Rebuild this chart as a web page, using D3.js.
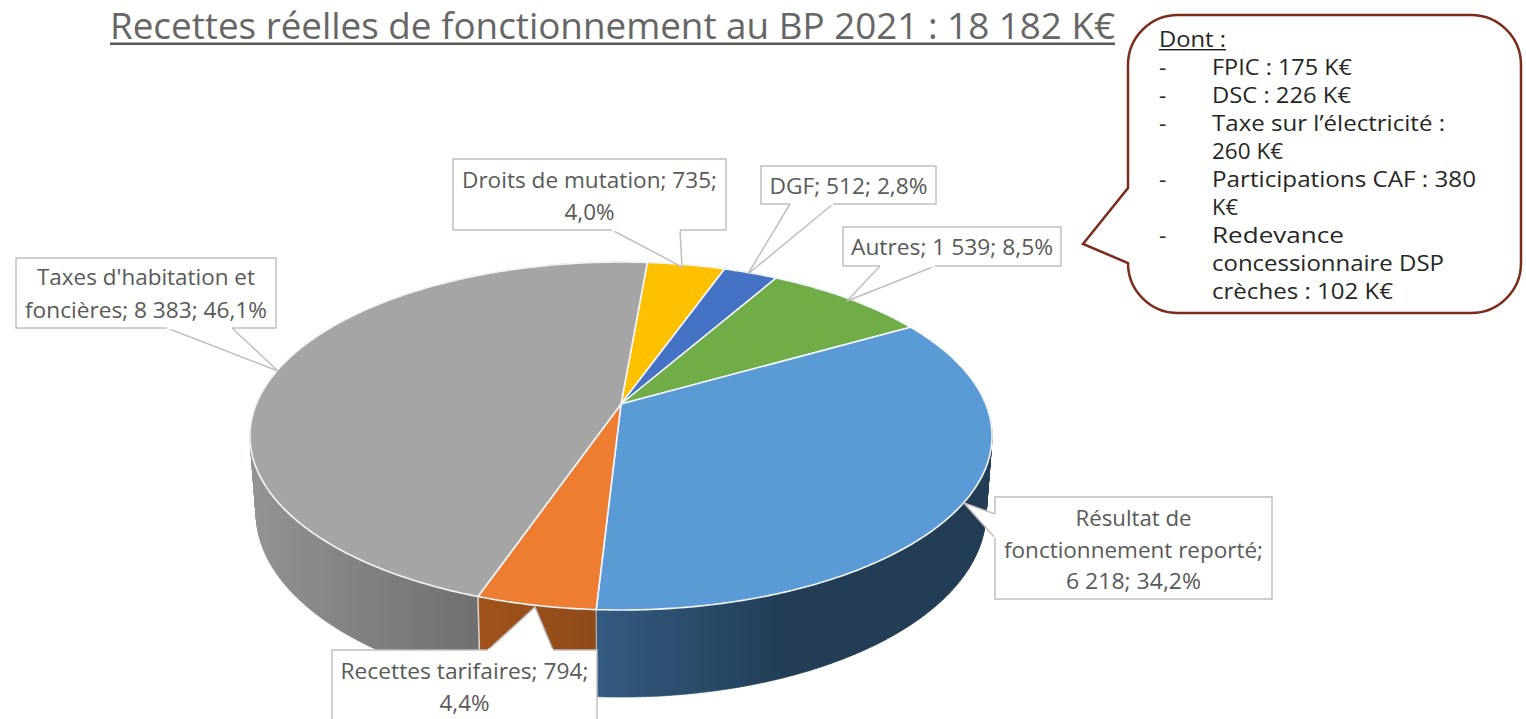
<!DOCTYPE html>
<html lang="fr">
<head>
<meta charset="utf-8">
<script src="https://cdn.jsdelivr.net/npm/d3@7"></script>
<style>
html,body{margin:0;padding:0;background:#fff;overflow:hidden}
svg{display:block}
text{font-family:"Open Sans",Lato,sans-serif}
</style>
</head>
<body>
<svg id="c" width="1526" height="719" viewBox="0 0 1526 719"></svg>
<script>
// ---------- data ----------
const categories = ["Droits de mutation","DGF","Autres","Résultat de fonctionnement reporté","Recettes tarifaires","Taxes d'habitation et foncières"];
const values = [735,512,1539,6218,794,8383];
const labelLines = [
  ["Droits de mutation; 735;","4,0%"],
  ["DGF; 512; 2,8%"],
  ["Autres; 1 539; 8,5%"],
  ["Résultat de","fonctionnement reporté;","6 218; 34,2%"],
  ["Recettes tarifaires; 794;","4,4%"],
  ["Taxes d'habitation et","foncières; 8 383; 46,1%"]
];
const titleText = "Recettes réelles de fonctionnement au BP 2021 : 18 182 K€";
const noteHead = "Dont :";
const noteItems = [
  ["FPIC : 175 K€"],
  ["DSC : 226 K€"],
  ["Taxe sur l’électricité :","260 K€"],
  ["Participations CAF : 380","K€"],
  ["Redevance","concessionnaire DSP","crèches : 102 K€"]
];

// ---------- styles ----------
const faceColors = ["#ffc000","#4472c4","#70ad47","#5b9bd5","#ed7d31","#a5a5a5"];
const wallStops = [
  ["#cc9a00","#cc9a00"],["#2f5597","#2f5597"],["#4f7a32","#4f7a32"],
  ["#335a80","#223d54"],["#a0531a","#8f4a1a"],["#939393","#6f6f6f"]
];
const wallRange = [[600,700],[700,770],[770,910],[600,790],[478,597],[252,478]];

// box [x,y,w,h], pointer [p1, tip, p2], baselines, measured line widths
const labelLayout = [
  {box:[453,159,273,71],ptr:[[612,230],[682,267],[680,230]],base:[188,220],w:[255,50]},
  {box:[761,166,175,38],ptr:[[790,204],[748,274],[833,204]],base:[194],w:[158]},
  {box:[843,227,218,39],ptr:[[880,266],[847,301],[935,266]],base:[255],w:[202]},
  {box:[995,497,277,102],ptr:[[995,514],[964,503],[995,538]],base:[526,558,589],w:[116,259,135]},
  {box:[332,650,265,90],ptr:[[488,650],[535,607],[553,650]],base:[679,711],w:[248,50]},
  {box:[16,258,260,70],ptr:[[167,328],[278,371],[232,328]],base:[285,318],w:[218,242]}
];

const svg = d3.select("#c");
const defs = svg.append("defs");

// ---------- perspective projection of the disc ----------
function projector(cx, cy, A, B, k){
  return a => {
    const X = Math.sin(a), Y = -Math.cos(a), d = 1 - k*Y;
    return [cx + A*X/d, cy + B*Y/d];
  };
}
const topP = projector(621,404,364.7,168.1,0.1839);
const botP = projector(621,479,358.7,178,0.1839);
const startAngle = 4.9*Math.PI/180;
const pie = d3.pie().sort(null).startAngle(startAngle).endAngle(startAngle+2*Math.PI);
const arcs = pie(values);
const line = d3.line();
const sample = (a0,a1) => {
  const n = Math.max(2,Math.ceil((a1-a0)/0.01));
  return d3.range(n+1).map(i => a0+(a1-a0)*i/n);
};

// ---------- walls ----------
const wallOrder = [0,1,2,5,3,4];
wallOrder.forEach(i => {
  const d = arcs[i];
  const id = "wall"+i;
  const g = defs.append("linearGradient").attr("id",id).attr("gradientUnits","userSpaceOnUse")
    .attr("x1",wallRange[i][0]).attr("x2",wallRange[i][1]).attr("y1",0).attr("y2",0);
  g.append("stop").attr("offset",0).attr("stop-color",wallStops[i][0]);
  g.append("stop").attr("offset",1).attr("stop-color",wallStops[i][1]);
  const as = sample(d.startAngle,d.endAngle);
  // union of thin quads between the rims
  const quads = d3.pairs(as).map(([a,b]) =>
    line([topP(a),topP(b),botP(b),botP(a)])+"Z").join("");
  svg.append("path").attr("d",quads).attr("fill",`url(#${id})`)
    .attr("stroke",`url(#${id})`).attr("stroke-width",0.6);
});
// seams between the walls
{
  const a = arcs[4].endAngle;
  svg.append("path").attr("d",line([topP(a),botP(a)])).attr("stroke","#d9d9d9").attr("stroke-width",1.5);
  const b = arcs[4].startAngle;
  svg.append("path").attr("d",line([topP(b),botP(b)])).attr("stroke","#c9c9c9").attr("stroke-width",1);
}

// ---------- top face ----------
arcs.forEach((d,i) => {
  const pts = [[621,404]].concat(sample(d.startAngle,d.endAngle).map(topP));
  svg.append("path").attr("d",line(pts)+"Z")
    .attr("fill",faceColors[i]).attr("stroke","#f2f6fa").attr("stroke-width",1.6)
    .attr("stroke-linejoin","round");
});

// ---------- data labels ----------
labelLines.forEach((lines,i) => {
  const L = labelLayout[i], [x,y,w,h] = L.box;
  const g = svg.append("g");
  g.append("rect").attr("x",x).attr("y",y).attr("width",w).attr("height",h)
    .attr("fill","#fff").attr("stroke","#bfbfbf").attr("stroke-width",1.5);
  g.append("path").attr("d",line(L.ptr)).attr("fill","#fff").attr("stroke","#bfbfbf")
    .attr("stroke-width",1.5).attr("stroke-linejoin","miter");
  g.append("path").attr("d",line([L.ptr[0],L.ptr[2]])).attr("stroke","#fff").attr("stroke-width",2.4);
  lines.forEach((t,j) => {
    g.append("text").attr("x",x+w/2).attr("y",L.base[j]).attr("text-anchor","middle")
      .attr("font-size",22).attr("fill","#595959")
      .attr("textLength",L.w[j]).attr("lengthAdjust","spacingAndGlyphs").text(t);
  });
});

// ---------- title ----------
svg.append("text").attr("x",110).attr("y",38.5).attr("font-size",36).attr("font-weight",400)
  .attr("fill","#666").attr("textLength",1005).attr("lengthAdjust","spacingAndGlyphs").text(titleText);
svg.append("rect").attr("x",110).attr("y",42.5).attr("width",1005).attr("height",2.5).attr("fill","#595959");

// ---------- speech bubble ----------
{
  const x0=1128,x1=1521,y0=15,y1=313,r=50;
  const p = d3.path();
  p.moveTo(x0+r,y0); p.lineTo(x1-r,y0); p.arcTo(x1,y0,x1,y0+r,r);
  p.lineTo(x1,y1-r); p.arcTo(x1,y1,x1-r,y1,r);
  p.lineTo(x0+r,y1); p.arcTo(x0,y1,x0,y1-r,r);
  p.lineTo(x0,263); p.lineTo(1083,244); p.lineTo(x0,188);
  p.lineTo(x0,y0+r); p.arcTo(x0,y0,x0+r,y0,r); p.closePath();
  svg.append("path").attr("d",p.toString()).attr("fill","#fff").attr("stroke","#7b2c1a").attr("stroke-width",2.5);

  const txt = (x,y,t,w) => svg.append("text").attr("x",x).attr("y",y).attr("font-size",22.5)
    .attr("font-weight",400).attr("fill","#262626")
    .attr("textLength",w).attr("lengthAdjust","spacingAndGlyphs").text(t);
  txt(1159,47,noteHead,67);
  svg.append("rect").attr("x",1159).attr("y",49).attr("width",67).attr("height",1.4).attr("fill","#1a1a1a");
  const widths = [[140],[139],[233,71],[264,26],[132,232,181]];
  let row = 0;
  noteItems.forEach((item,i) => {
    svg.append("text").attr("x",1159).attr("y",75+28*row).attr("font-size",22.5)
      .attr("fill","#262626").text("-");
    item.forEach((t,j) => { txt(1212,75+28*row,t,widths[i][j]); row++; });
  });
}
</script>
</body>
</html>
